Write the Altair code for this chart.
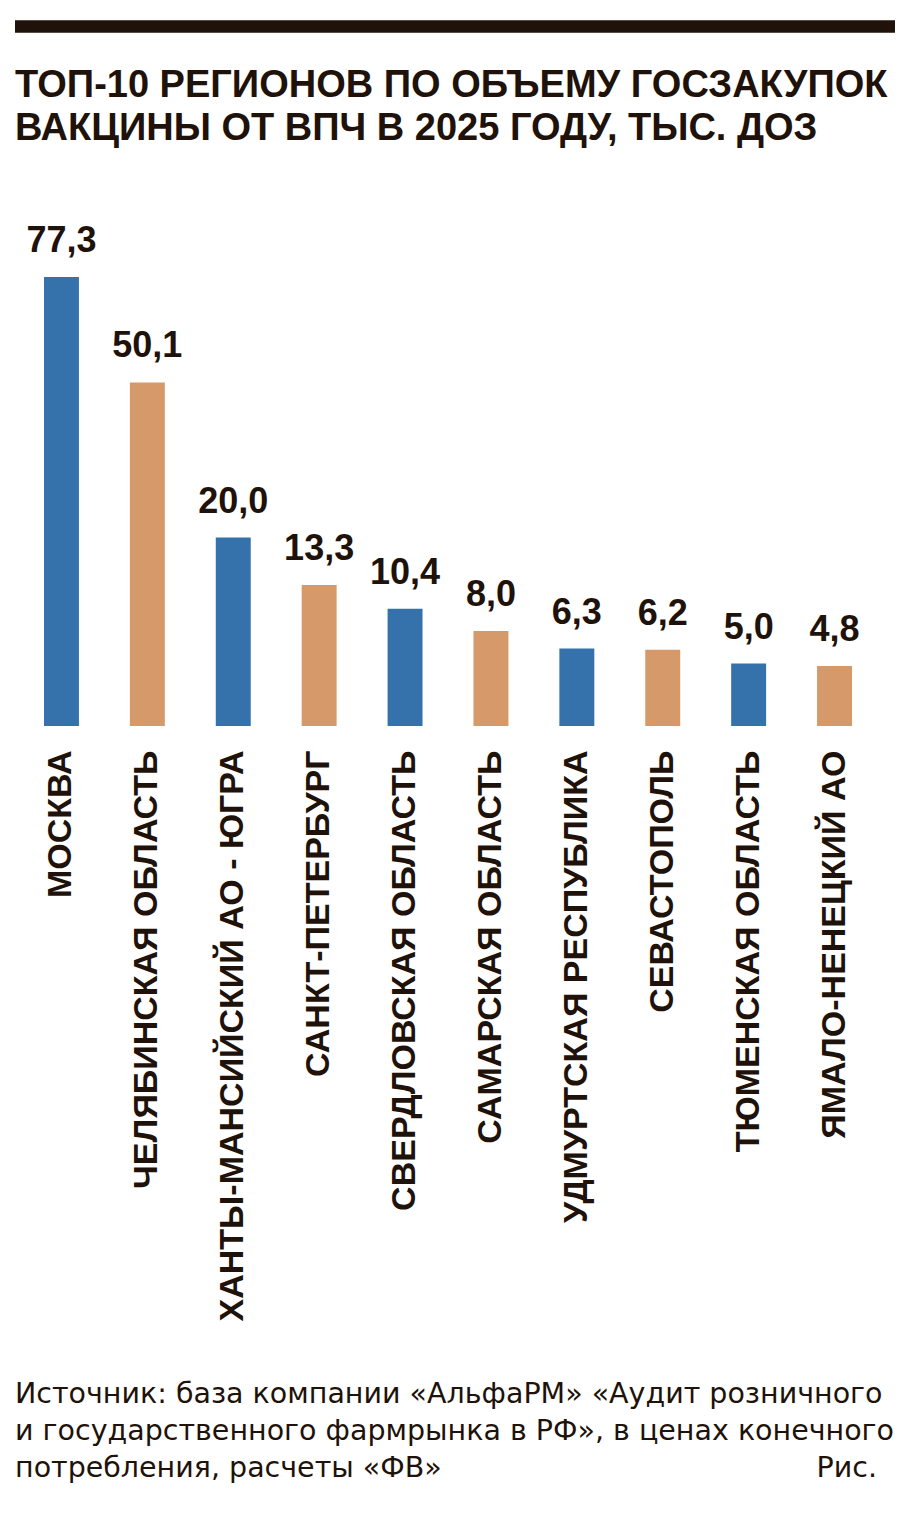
import altair as alt
import pandas as pd

regions = [
    "МОСКВА",
    "ЧЕЛЯБИНСКАЯ ОБЛАСТЬ",
    "ХАНТЫ-МАНСИЙСКИЙ АО - ЮГРА",
    "САНКТ-ПЕТЕРБУРГ",
    "СВЕРДЛОВСКАЯ ОБЛАСТЬ",
    "САМАРСКАЯ ОБЛАСТЬ",
    "УДМУРТСКАЯ РЕСПУБЛИКА",
    "СЕВАСТОПОЛЬ",
    "ТЮМЕНСКАЯ ОБЛАСТЬ",
    "ЯМАЛО-НЕНЕЦКИЙ АО",
]
values = [77.3, 50.1, 20.0, 13.3, 10.4, 8.0, 6.3, 6.2, 5.0, 4.8]

title_lines = [
    "ТОП-10 РЕГИОНОВ ПО ОБЪЕМУ ГОСЗАКУПОК",
    "ВАКЦИНЫ ОТ ВПЧ В 2025 ГОДУ, ТЫС. ДОЗ",
]
source_lines = [
    "Источник: база компании «АльфаРМ» «Аудит розничного",
    "и государственного фармрынка в РФ», в ценах конечного",
    "потребления, расчеты «ФВ»",
]
fig_label = "Рис."

BLUE = "#3572AB"
TAN = "#D69A6A"
INK = "#1E120A"
BOLD_FONT = "Liberation Sans"
SRC_FONT = "DejaVu Sans"

W, H = 896, 449
TOP = 277

df = pd.DataFrame({"region": regions, "value": values})
df["label"] = [f"{v:.1f}".replace(".", ",") for v in values]

base = alt.Chart(df).transform_window(idx="row_number()").transform_calculate(
    parity="datum.idx % 2"
)

x = alt.X(
    "region:N",
    sort=regions,
    scale=alt.Scale(paddingInner=0.593, paddingOuter=0.512),
    axis=alt.Axis(
        title=None,
        labelAngle=-90,
        labelAlign="right",
        labelBaseline="middle",
        labelPadding=24,
        labelFont=BOLD_FONT,
        labelFontWeight="bold",
        labelFontSize=34,
        labelColor=INK,
        labelLimit=2000,
        ticks=False,
        domain=False,
        grid=False,
    ),
)
yscale = alt.Scale(type="pow", exponent=0.55, domain=[1.09, 77.3], zero=False, nice=False)

bars = base.mark_bar().encode(
    x=x,
    y=alt.Y("value:Q", scale=yscale, axis=None, stack=None),
    y2=alt.value(H),
    color=alt.Color(
        "parity:N",
        scale=alt.Scale(domain=[1, 0], range=[BLUE, TAN]),
        legend=None,
    ),
)

labels = base.mark_text(
    font=BOLD_FONT,
    fontWeight="bold",
    fontSize=36,
    color=INK,
    baseline="alphabetic",
    align="center",
    dy=-25,
).encode(x=x, y=alt.Y("value:Q", scale=yscale, axis=None), text="label:N")

one = pd.DataFrame({"a": [0]})
top_rule = alt.Chart(one).mark_rule(color=INK, strokeWidth=12.5).encode(
    x=alt.value(15), x2=alt.value(895), y=alt.value(26.5 - TOP)
)

texts = []
for i, line in enumerate(title_lines):
    texts.append(
        alt.Chart(one)
        .mark_text(
            font=BOLD_FONT,
            fontWeight="bold",
            fontSize=38,
            color=INK,
            align="left",
            baseline="alphabetic",
        )
        .encode(x=alt.value(15), y=alt.value([97, 140][i] - TOP), text=alt.value(line))
    )
for i, line in enumerate(source_lines):
    texts.append(
        alt.Chart(one)
        .mark_text(
            font=SRC_FONT,
            fontSize=28.5,
            color=INK,
            align="left",
            baseline="alphabetic",
        )
        .encode(x=alt.value(15), y=alt.value(1403 + 37 * i - TOP), text=alt.value(line))
    )
texts.append(
    alt.Chart(one)
    .mark_text(font=SRC_FONT, fontSize=28.5, color=INK, align="right", baseline="alphabetic")
    .encode(x=alt.value(877), y=alt.value(1477 - TOP), text=alt.value(fig_label))
)

chart = (
    alt.layer(bars, labels, top_rule, *texts)
    .properties(
        width=W,
        height=H,
        autosize=alt.AutoSizeParams(type="none"),
        padding={"left": 0, "top": TOP, "right": 907 - W, "bottom": 1522 - TOP - H},
        background="white",
    )
    .configure_view(stroke=None)
)

chart.save("out.html", embed_options={"renderer": "svg", "actions": False})
